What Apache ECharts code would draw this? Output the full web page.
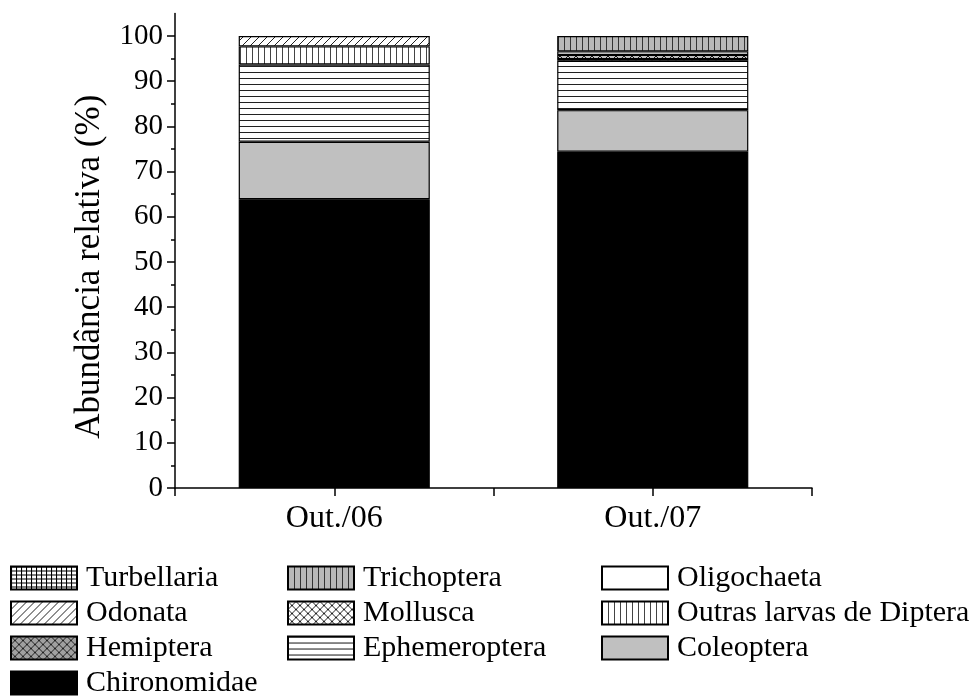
<!DOCTYPE html>
<html>
<head>
<meta charset="utf-8">
<script src="https://cdn.jsdelivr.net/npm/echarts@6/dist/echarts.min.js"></script>
<style>html,body{margin:0;padding:0;background:#fff}#c{width:972px;height:699px}</style>
</head>
<body>
<div id="c"></div>
<script>
var categories = ['Out./06', 'Out./07'];
var yTickValues = [0, 10, 20, 30, 40, 50, 60, 70, 80, 90, 100];
var yMinorTicks = [5, 15, 25, 35, 45, 55, 65, 75, 85, 95];
// stacking order: bottom to top
var chironomidae = [63.9, 74.4];
var coleoptera = [12.7, 9.2];
var ephemeroptera = [17.1, 10.9];
var hemiptera = [0, 0.4];
var outrasLarvas = [4.0, 0];
var mollusca = [0, 0.9];
var odonata = [2.3, 0];
var oligochaeta = [0, 0.8];
var trichoptera = [0, 3.4];
var turbellaria = [0, 0];

function pat(w, h, bg, draw) {
  var c = document.createElement('canvas');
  c.width = w; c.height = h;
  var g = c.getContext('2d');
  g.fillStyle = bg; g.fillRect(0, 0, w, h);
  g.strokeStyle = '#000'; g.lineWidth = 1;
  draw(g, w, h);
  return { image: c, repeat: 'repeat' };
}
var fills = {
  Turbellaria: pat(5, 4, '#fff', function (g, w, h) {
    g.beginPath(); g.moveTo(0.5, 0); g.lineTo(0.5, h); g.moveTo(0, 0.5); g.lineTo(w, 0.5); g.stroke();
  }),
  Trichoptera: pat(6, 6, '#b8b8b8', function (g, w, h) {
    g.strokeStyle = '#333'; g.beginPath(); g.moveTo(0.5, 0); g.lineTo(0.5, h); g.stroke();
  }),
  Oligochaeta: '#ffffff',
  Odonata: pat(8, 8, '#fff', function (g, w, h) {
    g.strokeStyle = '#222';
    g.beginPath(); g.moveTo(0, h); g.lineTo(w, 0); g.moveTo(-w, h); g.lineTo(0, 0); g.moveTo(w, h); g.lineTo(2 * w, 0); g.stroke();
  }),
  Mollusca: pat(8, 8, '#fff', function (g, w, h) {
    g.strokeStyle = '#222';
    g.beginPath(); g.moveTo(0, h); g.lineTo(w, 0); g.moveTo(0, 0); g.lineTo(w, h); g.stroke();
  }),
  'Outras larvas de Diptera': pat(6, 6, '#fff', function (g, w, h) {
    g.strokeStyle = '#444'; g.beginPath(); g.moveTo(0.5, 0); g.lineTo(0.5, h); g.stroke();
  }),
  Hemiptera: pat(8, 8, '#a0a0a0', function (g, w, h) {
    g.strokeStyle = '#222';
    g.beginPath(); g.moveTo(0, h); g.lineTo(w, 0); g.moveTo(0, 0); g.lineTo(w, h); g.stroke();
  }),
  Ephemeroptera: pat(6, 6, '#fff', function (g, w, h) {
    g.strokeStyle = '#222'; g.beginPath(); g.moveTo(0, 0.5); g.lineTo(w, 0.5); g.stroke();
  }),
  Coleoptera: '#c0c0c0',
  Chironomidae: '#000000'
};

var stack = [
  ['Chironomidae', chironomidae],
  ['Coleoptera', coleoptera],
  ['Ephemeroptera', ephemeroptera],
  ['Hemiptera', hemiptera],
  ['Outras larvas de Diptera', outrasLarvas],
  ['Mollusca', mollusca],
  ['Odonata', odonata],
  ['Oligochaeta', oligochaeta],
  ['Trichoptera', trichoptera],
  ['Turbellaria', turbellaria]
];

var FONT = 'Liberation Serif';
var series = stack.map(function (s) {
  return {
    name: s[0], type: 'bar', stack: 'total', barWidth: '60%',
    data: s[1].map(function (v) { return v === 0 ? '-' : v; }),
    itemStyle: { color: fills[s[0]], borderColor: '#000', borderWidth: 1.2 },
    emphasis: { disabled: true }, animation: false
  };
});

function legendCol(left, names) {
  return {
    orient: 'vertical', left: left, top: 563, height: 200, padding: 0,
    itemWidth: 66, itemHeight: 23, itemGap: 5,
    icon: 'rect', selectedMode: false, data: names,
    textStyle: { fontFamily: FONT, fontSize: 30, color: '#000', padding: [0, 0, 0, 4] }
  };
}

var chart = echarts.init(document.getElementById('c'));
chart.setOption({
  animation: false,
  grid: { left: 175, right: 160, top: 13.4, bottom: 211 },
  legend: [
    legendCol(10, ['Turbellaria', 'Odonata', 'Hemiptera', 'Chironomidae']),
    legendCol(287, ['Trichoptera', 'Mollusca', 'Ephemeroptera']),
    legendCol(601, ['Oligochaeta', 'Outras larvas de Diptera', 'Coleoptera'])
  ],
  xAxis: [
    {
      type: 'category', data: categories, position: 'bottom',
      axisLine: { lineStyle: { color: '#000', width: 1.5 } },
      axisTick: { show: true, length: 8, lineStyle: { color: '#000', width: 1.5 } },
      axisLabel: { fontFamily: FONT, fontSize: 32, color: '#000', margin: 15 }
    },
    {
      type: 'category', data: categories, position: 'bottom', gridIndex: 0,
      axisLine: { show: false },
      axisTick: { show: true, alignWithLabel: true, length: 8, lineStyle: { color: '#000', width: 1.5 } },
      axisLabel: { show: false }
    }
  ],
  yAxis: [
    {
      type: 'value', min: 0, max: 105, position: 'left',
      name: 'Abundância relativa (%)', nameLocation: 'middle', nameGap: 68,
      nameTextStyle: { fontFamily: FONT, fontSize: 35, color: '#000', padding: [0, 32, 0, 0] },
      axisLine: { show: true, lineStyle: { color: '#000', width: 1.5 } },
      axisTick: { show: true, length: 8, customValues: yTickValues, lineStyle: { color: '#000', width: 1.5 } },
      axisLabel: { customValues: yTickValues, fontFamily: FONT, fontSize: 29, color: '#000', margin: 12 },
      splitLine: { show: false }
    },
    {
      type: 'value', min: 0, max: 105, position: 'left', offset: 0,
      axisLine: { show: false },
      axisTick: { show: true, length: 4, customValues: yMinorTicks, lineStyle: { color: '#000', width: 1.5 } },
      axisLabel: { show: false },
      splitLine: { show: false }
    }
  ],
  series: series
});
</script>
</body>
</html>
